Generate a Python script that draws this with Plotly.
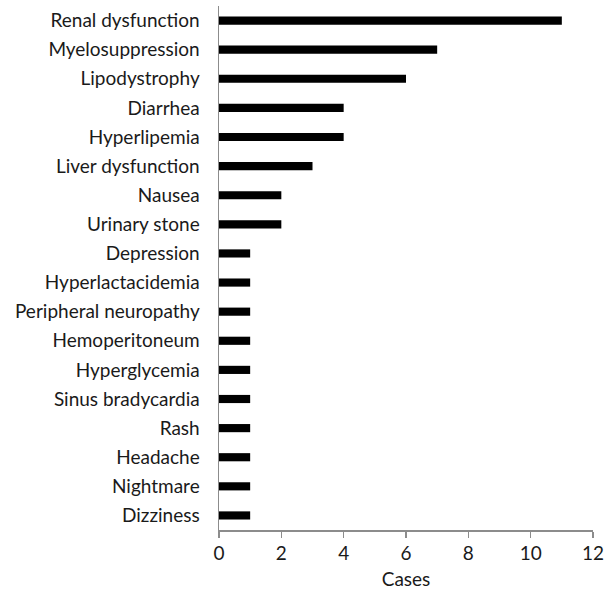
import plotly.graph_objects as go

categories = ["Renal dysfunction", "Myelosuppression", "Lipodystrophy", "Diarrhea",
              "Hyperlipemia", "Liver dysfunction", "Nausea", "Urinary stone",
              "Depression", "Hyperlactacidemia", "Peripheral neuropathy",
              "Hemoperitoneum", "Hyperglycemia", "Sinus bradycardia", "Rash",
              "Headache", "Nightmare", "Dizziness"]
cases = [11, 7, 6, 4, 4, 3, 2, 2, 1, 1, 1, 1, 1, 1, 1, 1, 1, 1]
x_ticks = [0, 2, 4, 6, 8, 10, 12]

fig = go.Figure(go.Bar(
    x=cases, y=categories, orientation="h",
    marker=dict(color="black", line=dict(width=0)),
    width=0.28, hoverinfo="skip",
))

font = dict(family="Lato, Open Sans, sans-serif", size=19, color="#1a1a1a")
fig.update_layout(
    width=605, height=592,
    margin=dict(l=219, r=12, t=6, b=62),
    paper_bgcolor="white", plot_bgcolor="white",
    font=font,
    showlegend=False,
    hovermode=False,
    xaxis=dict(range=[0, 12], tickvals=x_ticks, showgrid=False, zeroline=False,
               showline=True, linecolor="#8c8c8c", linewidth=1.5,
               ticks="outside", ticklen=6, tickcolor="#8c8c8c", tickwidth=1.5,
               title=dict(text="Cases", standoff=9, font=font), tickfont=font,
               automargin=False, fixedrange=True),
    yaxis=dict(categoryorder="array", categoryarray=categories, autorange="reversed",
               showgrid=False, zeroline=False, showline=True, linecolor="#8c8c8c",
               linewidth=1.5, ticks="", ticklabelstandoff=14, tickfont=font,
               range=[17.5, -0.5], automargin=False, fixedrange=True),
)

fig.write_html("out.html", config={"displayModeBar": False, "staticPlot": True},
               post_script="document.body.style.margin='0';document.body.style.overflow='hidden';")
